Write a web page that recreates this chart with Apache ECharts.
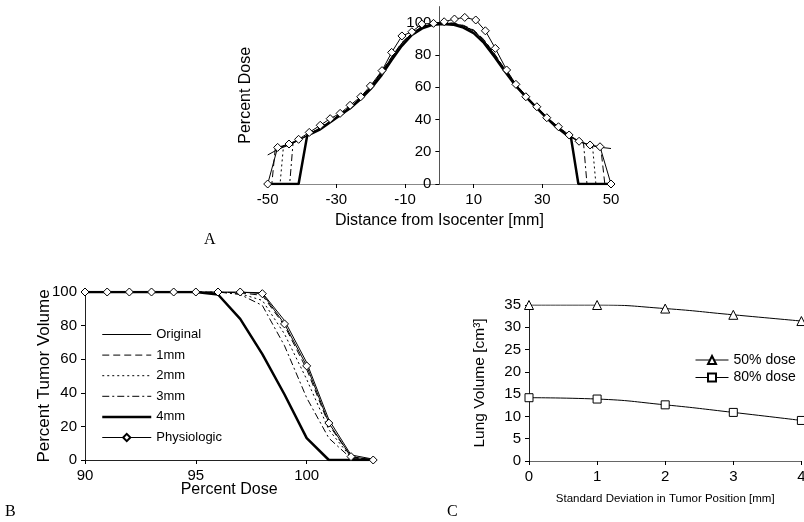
<!DOCTYPE html>
<html><head><meta charset="utf-8">
<script src="https://cdn.jsdelivr.net/npm/echarts@6/dist/echarts.min.js"></script>
<style>html,body{margin:0;padding:0;background:#fff}#c{width:804px;height:522px}</style>
</head><body><div id="c"></div>
<script>
// ---------- Panel A: dose profiles (x = distance mm, y = percent dose)
const aXTicks = [-50, -30, -10, 10, 30, 50];
const aYTicks = [0, 20, 40, 60, 80, 100];
const aOriginal = [[-50,18],[-47,21.5],[-44,24],[-41,27],[-38,30.5],[-35,34.5],[-32,38.5],[-29,43],[-26,47.5],[-23,53],[-20,60],[-17,68.5],[-14,78],[-11,87],[-8,93.5],[-5,97.5],[-2,99.3],[1,99.8],[4,99.5],[7,98],[10,95],[13,89],[16,80.5],[19,71],[22,62.5],[25,55],[28,48.5],[31,42],[34,36],[37,31],[40,27],[43,24.5],[46,23],[50,22]];
const a1mm = [[-50,0],[-48.8,0],[-47.8,22],[-44,24.2],[-41,27.2],[-38,30.8],[-35,34.8],[-32,38.8],[-29,43.2],[-26,47.8],[-23,53.3],[-20,60.5],[-17,69],[-14,78.5],[-11,87.5],[-8,93.8],[-5,97.8],[-2,99.5],[1,100],[4,99.8],[7,98.4],[10,95.5],[13,89.5],[16,81],[19,71.5],[22,62.8],[25,55.2],[28,48.7],[31,42.2],[34,36.2],[37,31.2],[40,27.2],[43,24.6],[47,23],[48.2,0],[50,0]];
const a2mm = [[-50,0],[-46.4,0],[-45.4,23.6],[-44,24.2],[-41,27.1],[-38,30.7],[-35,34.6],[-32,38.6],[-29,43.1],[-26,47.6],[-23,53.1],[-20,60.2],[-17,68.7],[-14,78.2],[-11,87.2],[-8,93.6],[-5,97.6],[-2,99.4],[1,99.9],[4,99.6],[7,98.2],[10,95.2],[13,89.2],[16,80.7],[19,71.2],[22,62.6],[25,55.1],[28,48.6],[31,42.1],[34,36.1],[37,31.1],[40,27.1],[43,24.6],[44.6,24],[45.6,0],[50,0]];
const a3mm = [[-50,0],[-43.6,0],[-42.6,25.8],[-41,27],[-38,30.6],[-35,34.5],[-32,38.5],[-29,43],[-26,47.5],[-23,53],[-20,60],[-17,68.5],[-14,78],[-11,87],[-8,93.4],[-5,97.4],[-2,99.2],[1,99.7],[4,99.4],[7,97.9],[10,94.9],[13,88.9],[16,80.4],[19,70.9],[22,62.4],[25,54.9],[28,48.4],[31,41.9],[34,35.9],[37,30.9],[40,26.9],[42,25.3],[43,0],[50,0]];
const a4mm = [[-50,0],[-41,0],[-38.5,30],[-35,33.5],[-32,38],[-29,42.5],[-26,47],[-23,52.5],[-20,59],[-17,67],[-14,76.5],[-11,85.5],[-8,92.5],[-5,96.5],[-2,98.7],[1,99.2],[4,98.8],[7,97],[10,93.5],[13,87.5],[16,79],[19,70],[22,61.5],[25,54.5],[28,48],[31,41.5],[34,35.5],[37,30.5],[38.4,28],[40.5,0],[50,0]];
const aPhysio = [[-50,0],[-47.1,22.7],[-43.8,24.8],[-41,27.7],[-37.9,32],[-34.7,36.4],[-31.8,40.5],[-28.9,43.8],[-26,48.8],[-22.9,54.1],[-20.1,60.8],[-16.7,70.3],[-13.9,81.6],[-10.9,91.8],[-8,94.4],[-5.1,99.2],[-1.7,99.6],[1.4,100.6],[4.4,102.3],[7.4,103.3],[10.6,101.7],[13.4,95],[16.3,84.1],[19.6,70.7],[22.3,61.8],[25.2,54.1],[28.4,47.9],[31.3,41.1],[34.7,35.5],[37.8,30.4],[40.7,26.5],[43.9,24.2],[46.8,23.1],[50,0]];

// ---------- Panel B: tumor DVH
const bDose = [90,91,92,93,94,95,96,97,98,99,100,101,102,103];
const bXTicks = [90, 95, 100];
const bOriginal = [100,100,100,100,100,100,100,100,99.5,83,58,24,3,0.5];
const b1mm      = [100,100,100,100,100,100,100,99.5,98,80,54,21,2,0];
const b2mm      = [100,100,100,100,100,100,100,99,95,75,48,18,1.5,0];
const b3mm      = [100,100,100,100,100,100,100,98.5,92,68,37,13,1,0];
const b4mm      = [100,100,100,100,100,100,98.5,84,63,39,13,0,0,0];
const bPhysio   = [100,100,100,100,100,100,100,100,99,81,56,22,2,0];

// ---------- Panel C: lung volume
const cSD = [0,1,2,3,4];
const c50 = [35,35,34.2,32.8,31.4];
const c80 = [14.2,13.9,12.6,10.9,9.1];

const FF = "'Liberation Sans', Arial, sans-serif";
const BLK = '#000';
const styles = {
  orig:  {type:'solid', width:1},
  mm1:   {type:[7,4], width:1},
  mm2:   {type:[2,3], width:1},
  mm3:   {type:[7,3,2,3], width:1},
  mm4:   {type:'solid', width:2.5},
  phys:  {type:'solid', width:1}
};
function ser(name, data, st, gi, extra) {
  return Object.assign({
    name: name, type:'line', data: data, xAxisIndex: gi, yAxisIndex: gi,
    symbol:'none', silent:true, animation:false,
    itemStyle:{color:BLK},
    lineStyle: Object.assign({color: BLK}, st)
  }, extra || {});
}
const diamond = {symbol:'diamond', symbolSize:8, showSymbol:true,
  itemStyle:{color:'#fff', borderColor:BLK, borderWidth:1}, z:5};
const zip = (xs, ys) => xs.map((x,i)=>[x, ys[i]]);

const axLine = c => ({show:true, onZero:true, lineStyle:{color:c, width:1}});
const tick = {show:true, length:4, lineStyle:{color:BLK}};
const lab = (fs) => ({color:BLK, fontSize:fs, fontFamily:FF, margin:8});
const nameStyle = (fs) => ({color:BLK, fontSize:fs, fontFamily:FF});
const noSym = {opacity:0};

// grid A geometry (pixel layout); the y axis of A sits at x = 0
const gA = {left:267.7, top:6.6, width:343.3, height:177.4};
const aYAxisOffset = -gA.width * (0 - (-50)) / (50 - (-50));

const option = {
  backgroundColor:'#fff',
  animation:false,
  grid: [
    Object.assign({outerBoundsMode:'none'}, gA),
    {left:85, top:292, width:288.2, height:168, outerBoundsMode:'none'},
    {left:529, top:305, width:272.4, height:156, outerBoundsMode:'none'}
  ],
  xAxis: [
    {gridIndex:0, type:'value', min:-50, max:50, axisLine:axLine('#888'),
     axisTick:Object.assign({customValues:aXTicks}, tick),
     axisLabel:Object.assign({customValues:aXTicks}, lab(15)), splitLine:{show:false},
     name:'Distance from Isocenter [mm]', nameLocation:'middle', nameGap:29, nameMoveOverlap:false, nameTextStyle:nameStyle(16)},
    {gridIndex:1, type:'value', min:90, max:103, axisLine:axLine('#222'),
     axisTick:Object.assign({customValues:bXTicks}, tick),
     axisLabel:Object.assign({customValues:bXTicks}, lab(15)), splitLine:{show:false},
     name:'Percent Dose', nameLocation:'middle', nameGap:22, nameMoveOverlap:false, nameTextStyle:nameStyle(16)},
    {gridIndex:2, type:'value', min:0, max:4, interval:1, axisLine:axLine('#666'),
     axisTick:tick, axisLabel:lab(15), splitLine:{show:false},
     name:'Standard Deviation in Tumor Position [mm]', nameLocation:'middle', nameGap:32, nameMoveOverlap:false, nameTextStyle:nameStyle(11.5)}
  ],
  yAxis: [
    {gridIndex:0, type:'value', min:0, max:110, offset:aYAxisOffset,
     axisLine:{show:true, onZero:false, lineStyle:{color:'#555', width:1}},
     axisTick:Object.assign({customValues:aYTicks}, tick),
     axisLabel:Object.assign({customValues:aYTicks}, lab(15)), splitLine:{show:false},
     name:'Percent Dose', nameLocation:'middle', nameGap:186, nameMoveOverlap:false, nameTextStyle:nameStyle(16)},
    {gridIndex:1, type:'value', min:0, max:100, interval:20, axisLine:axLine('#222'),
     axisTick:tick, axisLabel:lab(15), splitLine:{show:false},
     name:'Percent Tumor Volume', nameLocation:'middle', nameGap:32, nameMoveOverlap:false, nameTextStyle:nameStyle(17)},
    {gridIndex:2, type:'value', min:0, max:35, interval:5, axisLine:axLine('#222'),
     axisTick:tick, axisLabel:lab(15), splitLine:{show:false},
     name:'Lung Volume [cm³]', nameLocation:'middle', nameGap:41, nameMoveOverlap:false, nameTextStyle:nameStyle(15.5)}
  ],
  legend: [
    {data:[
       {name:'Original', itemStyle:noSym},
       {name:'1mm', itemStyle:noSym},
       {name:'2mm', itemStyle:noSym},
       {name:'3mm', itemStyle:noSym},
       {name:'4mm', itemStyle:noSym, lineStyle:{width:2.5}},
       {name:'Physiologic'}],
     orient:'vertical', left:101, top:328,
     padding:0, itemWidth:49, itemHeight:9, itemGap:7.6, selectedMode:false,
     lineStyle:{width:1},
     textStyle:{color:BLK, fontSize:13, fontFamily:FF}},
    {data:['50% dose','80% dose'], orient:'vertical', left:695, top:353,
     padding:0, itemWidth:33, itemHeight:10, itemGap:3.5, selectedMode:false,
     lineStyle:{width:1},
     textStyle:{color:BLK, fontSize:14, fontFamily:FF}}
  ],
  graphic: [
    {type:'text', left:204, top:232, style:{text:'A', fontSize:16, fontFamily:"'Liberation Serif', serif", fill:BLK}},
    {type:'text', left:5, top:504, style:{text:'B', fontSize:16, fontFamily:"'Liberation Serif', serif", fill:BLK}},
    {type:'text', left:447, top:504, style:{text:'C', fontSize:16, fontFamily:"'Liberation Serif', serif", fill:BLK}}
  ],
  series: [
    ser('A 4mm', a4mm, styles.mm4, 0),
    ser('A 3mm', a3mm, styles.mm3, 0),
    ser('A 2mm', a2mm, styles.mm2, 0),
    ser('A 1mm', a1mm, styles.mm1, 0),
    ser('A Original', aOriginal, styles.orig, 0),
    ser('A Physiologic', aPhysio, styles.phys, 0, diamond),

    ser('4mm', zip(bDose, b4mm), styles.mm4, 1),
    ser('3mm', zip(bDose, b3mm), styles.mm3, 1),
    ser('2mm', zip(bDose, b2mm), styles.mm2, 1),
    ser('1mm', zip(bDose, b1mm), styles.mm1, 1),
    ser('Original', zip(bDose, bOriginal), styles.orig, 1),
    ser('Physiologic', zip(bDose, bPhysio), styles.phys, 1, diamond),

    ser('50% dose', zip(cSD, c50), styles.orig, 2, {smooth:true, symbol:'triangle', symbolSize:9, showSymbol:true,
      itemStyle:{color:'#fff', borderColor:BLK, borderWidth:1}}),
    ser('80% dose', zip(cSD, c80), styles.orig, 2, {smooth:true, symbol:'rect', symbolSize:8, showSymbol:true,
      itemStyle:{color:'#fff', borderColor:BLK, borderWidth:1}})
  ]
};
const chart = echarts.init(document.getElementById('c'), null, {renderer:'canvas'});
chart.setOption(option);
</script></body></html>
